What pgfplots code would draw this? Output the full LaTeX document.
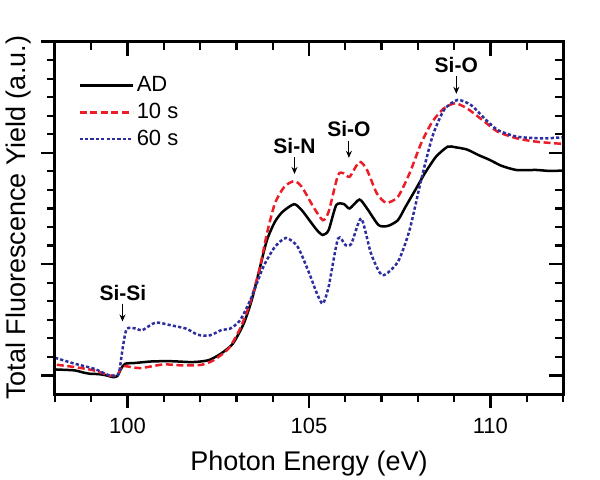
\documentclass[border=0pt]{standalone}
\usepackage{pgfplots}
\pgfplotsset{compat=1.18}
\usepackage{fontspec}
\setmainfont{Liberation Sans}
\usetikzlibrary{arrows.meta}
\definecolor{myred}{RGB}{235,30,40}
\definecolor{myblue}{RGB}{45,45,160}
\begin{document}
\begin{tikzpicture}
\useasboundingbox (-27.5pt,-42.5pt) rectangle (272.5pt,197pt);
\pgfplotsset{
  common/.style={
    scale only axis, width=254pt, height=176.25pt,
    xmin=98, xmax=112, ymin=-0.166667, ymax=3,
    xtick={100,105,110},
    minor xtick={98,99,101,102,103,104,106,107,108,109,111,112},
    ytick={0,1,2,3},
    minor ytick={0.16667,0.33333,0.5,0.66667,0.83333,1.16667,1.33333,1.5,1.66667,1.83333,2.16667,2.33333,2.5,2.66667,2.83333},
    yticklabel=\empty,
    major tick length=7pt, minor tick length=4pt,
    every tick/.style={black, line width=1.1pt},
    axis line style={line width=1.5pt},
    /pgf/number format/assume math mode=true,
  }
}
\begin{axis}[common,
  xtick pos=left, ytick pos=left, tick align=outside,
  xticklabel style={font=\fontsize{11}{13}\selectfont, anchor=base, yshift=-12.5pt},
  xlabel={Photon Energy (eV)},
  ylabel={Total Fluorescence Yield (a.u.)},
  xlabel style={font=\fontsize{13.5}{16}\selectfont, at={(axis description cs:0.5,-0.2156)}, anchor=base},
  ylabel style={font=\fontsize{13.5}{16}\selectfont, at={(axis description cs:-0.059,0.5)}, anchor=base, rotate=0},
  legend style={at={(rel axis cs:0.045,0.91)}, anchor=north west, draw=none, fill=none,
    font=\fontsize{11}{13}\selectfont, row sep=1.2pt, inner sep=0pt,
    nodes={inner sep=1.5pt, font=\fontsize{11}{13}\selectfont}},
  legend cell align=left,
  legend image code/.code={\draw[#1] (0pt,0pt) -- (26.5pt,0pt);},
]
\addplot[black, line width=1.25pt, smooth, tension=0.4] coordinates {
(98.00,0.054) (98.30,0.050) (98.55,0.045) (98.80,0.025) (98.97,0.015) (99.20,0.012) (99.40,0.002) (99.60,-0.015) (99.72,-0.005)
(99.82,0.06) (99.93,0.105) (100.2,0.112) (100.67,0.126) (101.2,0.128) (101.73,0.120) (102.0,0.125) (102.26,0.140)
(102.57,0.195) (102.90,0.285) (103.20,0.465) (103.42,0.675) (103.63,0.945) (103.84,1.215) (104.06,1.380)
(104.27,1.470) (104.59,1.539) (104.80,1.485) (105.01,1.395) (105.22,1.305) (105.38,1.262) (105.54,1.305)
(105.75,1.530) (105.96,1.540) (106.12,1.500) (106.39,1.580) (106.60,1.500) (106.92,1.350) (107.18,1.344)
(107.45,1.395) (107.66,1.515) (107.98,1.695) (108.19,1.815) (108.50,1.965) (108.82,2.055) (109.03,2.050)
(109.35,2.030) (109.67,1.980) (109.99,1.935) (110.30,1.884) (110.73,1.845) (111.26,1.846) (111.60,1.838) (112.00,1.840)
};
\addlegendentry{AD}
\addplot[myred, line width=1.25pt, dash pattern=on 3.5pt off 1.8pt, smooth, tension=0.4] coordinates {
(98.05,0.096) (98.55,0.075) (99.08,0.045) (99.50,0.000) (99.72,0.000) (99.82,0.075) (99.93,0.084) (100.35,0.066)
(100.99,0.099) (101.52,0.090) (102.04,0.096) (102.36,0.135) (102.78,0.240) (103.10,0.420) (103.37,0.645)
(103.63,0.945) (103.84,1.275) (104.06,1.545) (104.32,1.695) (104.59,1.746) (104.80,1.695) (105.12,1.515)
(105.38,1.395) (105.54,1.470) (105.80,1.800) (105.96,1.815) (106.12,1.785) (106.39,1.920) (106.60,1.845)
(106.87,1.635) (107.13,1.551) (107.45,1.605) (107.77,1.815) (108.09,2.085) (108.40,2.280) (108.72,2.400)
(109.03,2.445) (109.35,2.400) (109.78,2.295) (110.20,2.190) (110.73,2.130) (111.26,2.100) (112.00,2.080)
};
\addlegendentry{10 s}
\addplot[myblue, line width=1.25pt, dash pattern=on 1.6pt off 1.1pt, smooth, tension=0.4] coordinates {
(98.00,0.159) (98.55,0.105) (99.08,0.060) (99.50,0.000) (99.70,0.005) (99.77,0.030) (99.87,0.255) (99.98,0.420)
(100.25,0.420) (100.40,0.405) (100.77,0.475) (101.20,0.450) (101.62,0.420) (101.94,0.365) (102.27,0.360)
(102.60,0.410) (102.82,0.420) (103.10,0.495) (103.42,0.705) (103.74,0.975) (104.06,1.155) (104.37,1.236)
(104.69,1.155) (105.01,0.915) (105.22,0.735) (105.38,0.645) (105.54,0.795) (105.80,1.230) (106.01,1.170)
(106.17,1.185) (106.44,1.410) (106.71,1.095) (107.02,0.900) (107.45,1.020) (107.77,1.305) (108.09,1.755)
(108.40,2.145) (108.72,2.385) (109.09,2.475) (109.46,2.430) (109.88,2.295) (110.20,2.205) (110.73,2.145)
(111.47,2.130) (112.00,2.140)
};
\addlegendentry{60 s}
\begin{scope}[font=\bfseries\fontsize{10.5}{12}\selectfont]
\node at (axis cs:99.87,0.74) {Si-Si};
\node at (axis cs:104.6,2.06) {Si-N};
\node at (axis cs:106.1,2.21) {Si-O};
\node at (axis cs:109.06,2.79) {Si-O};
\end{scope}
\begin{scope}[line width=0.55pt, -{Stealth[length=3.5pt,width=3pt]}]
\draw (axis cs:99.86,0.645) -- (axis cs:99.86,0.485);
\draw (axis cs:104.6,1.96) -- (axis cs:104.6,1.81);
\draw (axis cs:106.1,2.11) -- (axis cs:106.1,1.955);
\draw (axis cs:109.06,2.69) -- (axis cs:109.06,2.53);
\end{scope}
\end{axis}
\begin{axis}[common,
  xtick pos=right, ytick pos=right, tick align=inside,
  xticklabel=\empty,
]
\addplot[draw=none] coordinates {(100,1)};
\end{axis}
\end{tikzpicture}
\end{document}
